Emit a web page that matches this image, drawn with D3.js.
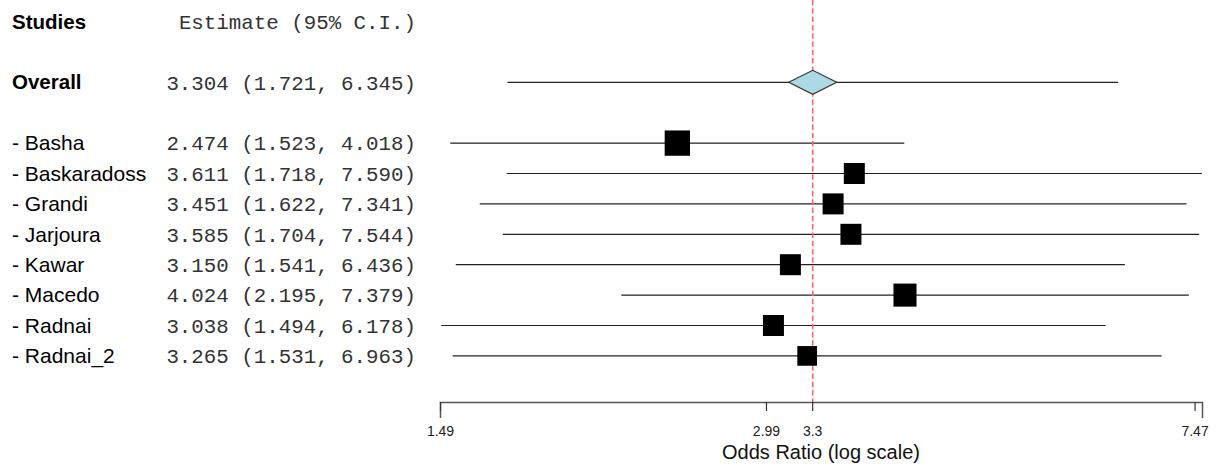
<!DOCTYPE html>
<html>
<head>
<meta charset="utf-8">
<script src="https://cdn.jsdelivr.net/npm/d3@7"></script>
<style>
  body { margin: 0; background: #fff; }
  svg { display: block; }
</style>
</head>
<body>
<figure id="forest" style="margin:0"></figure>
<script>
// study data
const studies = ['Basha', 'Baskaradoss', 'Grandi', 'Jarjoura', 'Kawar', 'Macedo', 'Radnai', 'Radnai_2'];
const estimates = [2.474, 3.611, 3.451, 3.585, 3.150, 4.024, 3.038, 3.265];
const lowers = [1.523, 1.718, 1.622, 1.704, 1.541, 2.195, 1.494, 1.531];
const uppers = [4.018, 7.590, 7.341, 7.544, 6.436, 7.379, 6.178, 6.963];
const weights = [17.0, 11.7, 11.7, 11.7, 11.7, 14.1, 11.7, 10.3];

const overall = { label: 'Overall', est: 3.304, lo: 1.721, hi: 6.345 };
const tickValues = [1.49, 2.99, 3.3, 7.47];
const axisDomain = [1.49, 7.59];

const width = 1218;
const height = 468;

const svg = d3.select('figure#forest')
  .append('svg')
  .attr('width', width)
  .attr('height', height);

const x = d3.scaleLog().domain(axisDomain).range([440, 1202]);
// row index -> vertical centre (header 0, overall 2, studies from 4)
const row = d3.scaleLinear().domain([0, 1]).range([21.5, 51.9]);
const box = d3.scaleSqrt().domain([0, d3.max(weights)]).range([0, 25.3]);
const fmt = d3.format('.3f');
const ciText = (e, l, h) => fmt(e) + ' (' + fmt(l) + ', ' + fmt(h) + ')';

const sans = 'Liberation Sans, Arial, sans-serif';
const mono = 'Liberation Mono, Courier New, monospace';
const axisY = 402;

const data = studies.map((s, i) => ({
  name: s, est: estimates[i], lo: lowers[i], hi: uppers[i], w: weights[i], r: i + 4
}));

// header
svg.append('text')
  .attr('x', 12).attr('y', row(0))
  .attr('dy', '0.35em')
  .style('font-family', sans).style('font-weight', 'bold').style('font-size', '20.5px')
  .text('Studies');
svg.append('text')
  .attr('x', 416).attr('y', row(0))
  .attr('dy', '0.35em')
  .attr('text-anchor', 'end')
  .style('font-family', mono).style('font-size', '20.8px').style('fill', '#333')
  .text('Estimate (95% C.I.)');

// overall row labels
svg.append('text')
  .attr('x', 12).attr('y', row(2))
  .attr('dy', '0.35em')
  .style('font-family', sans).style('font-weight', 'bold').style('font-size', '20.5px')
  .text(overall.label);
svg.append('text')
  .attr('x', 416).attr('y', row(2))
  .attr('dy', '0.35em')
  .attr('text-anchor', 'end')
  .style('font-family', mono).style('font-size', '20.8px').style('fill', '#333')
  .text(ciText(overall.est, overall.lo, overall.hi));

// study labels
svg.selectAll('text.name')
  .data(data)
  .enter()
  .append('text')
  .attr('class', 'name')
  .attr('x', 12).attr('y', d => row(d.r))
  .attr('dy', '0.35em')
  .style('font-family', sans).style('font-size', '21px')
  .text(d => '- ' + d.name);

svg.selectAll('text.ci')
  .data(data)
  .enter()
  .append('text')
  .attr('class', 'ci')
  .attr('x', 416).attr('y', d => row(d.r))
  .attr('dy', '0.35em')
  .attr('text-anchor', 'end')
  .style('font-family', mono).style('font-size', '20.8px').style('fill', '#333')
  .text(d => ciText(d.est, d.lo, d.hi));

// CI lines
svg.selectAll('line.ci')
  .data(data)
  .enter()
  .append('line')
  .attr('x1', d => x(d.lo)).attr('x2', d => x(d.hi))
  .attr('y1', d => row(d.r)).attr('y2', d => row(d.r))
  .attr('stroke', '#222')
  .attr('stroke-width', 1.2);

svg.append('line')
  .attr('x1', x(overall.lo)).attr('x2', x(overall.hi))
  .attr('y1', row(2)).attr('y2', row(2))
  .attr('stroke', '#222')
  .attr('stroke-width', 1.2);

// reference line at overall estimate
svg.append('line')
  .attr('x1', x(overall.est)).attr('x2', x(overall.est))
  .attr('y1', 0).attr('y2', axisY)
  .attr('stroke', '#f66')
  .attr('stroke-width', 1.6)
  .attr('stroke-dasharray', '5.5,2.8');

// squares
svg.selectAll('rect.pt')
  .data(data)
  .enter()
  .append('rect')
  .attr('x', d => x(d.est) - box(d.w) / 2)
  .attr('y', d => row(d.r) - box(d.w) / 2)
  .attr('width', d => box(d.w))
  .attr('height', d => box(d.w))
  .attr('fill', '#000');

// overall diamond
const cx = x(overall.est), cy = row(2);
svg.append('path')
  .attr('d', 'M' + (cx - 24) + ',' + cy + 'L' + cx + ',' + (cy - 12) +
             'L' + (cx + 24) + ',' + cy + 'L' + cx + ',' + (cy + 12) + 'Z')
  .attr('fill', '#add8e6')
  .attr('stroke', '#333')
  .attr('stroke-width', 1.2);

// axis
const axis = d3.axisBottom(x)
  .tickValues(tickValues)
  .tickFormat(d => String(d))
  .tickSizeInner(9)
  .tickSizeOuter(16)
  .tickPadding(15);

const gAxis = svg.append('g')
  .attr('transform', 'translate(0,' + axisY + ')')
  .call(axis);
gAxis.select('.domain').attr('stroke', '#555').attr('stroke-width', 1.5);
gAxis.selectAll('.tick line').attr('stroke', '#333').attr('stroke-width', 1.2);
gAxis.selectAll('.tick text')
  .style('font-family', sans).style('font-size', '14px').style('fill', '#222');

svg.append('text')
  .attr('x', (x.range()[0] + x.range()[1]) / 2)
  .attr('y', 452)
  .attr('dy', '0.35em')
  .attr('text-anchor', 'middle')
  .style('font-family', sans).style('font-size', '20px').style('fill', '#111')
  .text('Odds Ratio (log scale)');
</script>
</body>
</html>
